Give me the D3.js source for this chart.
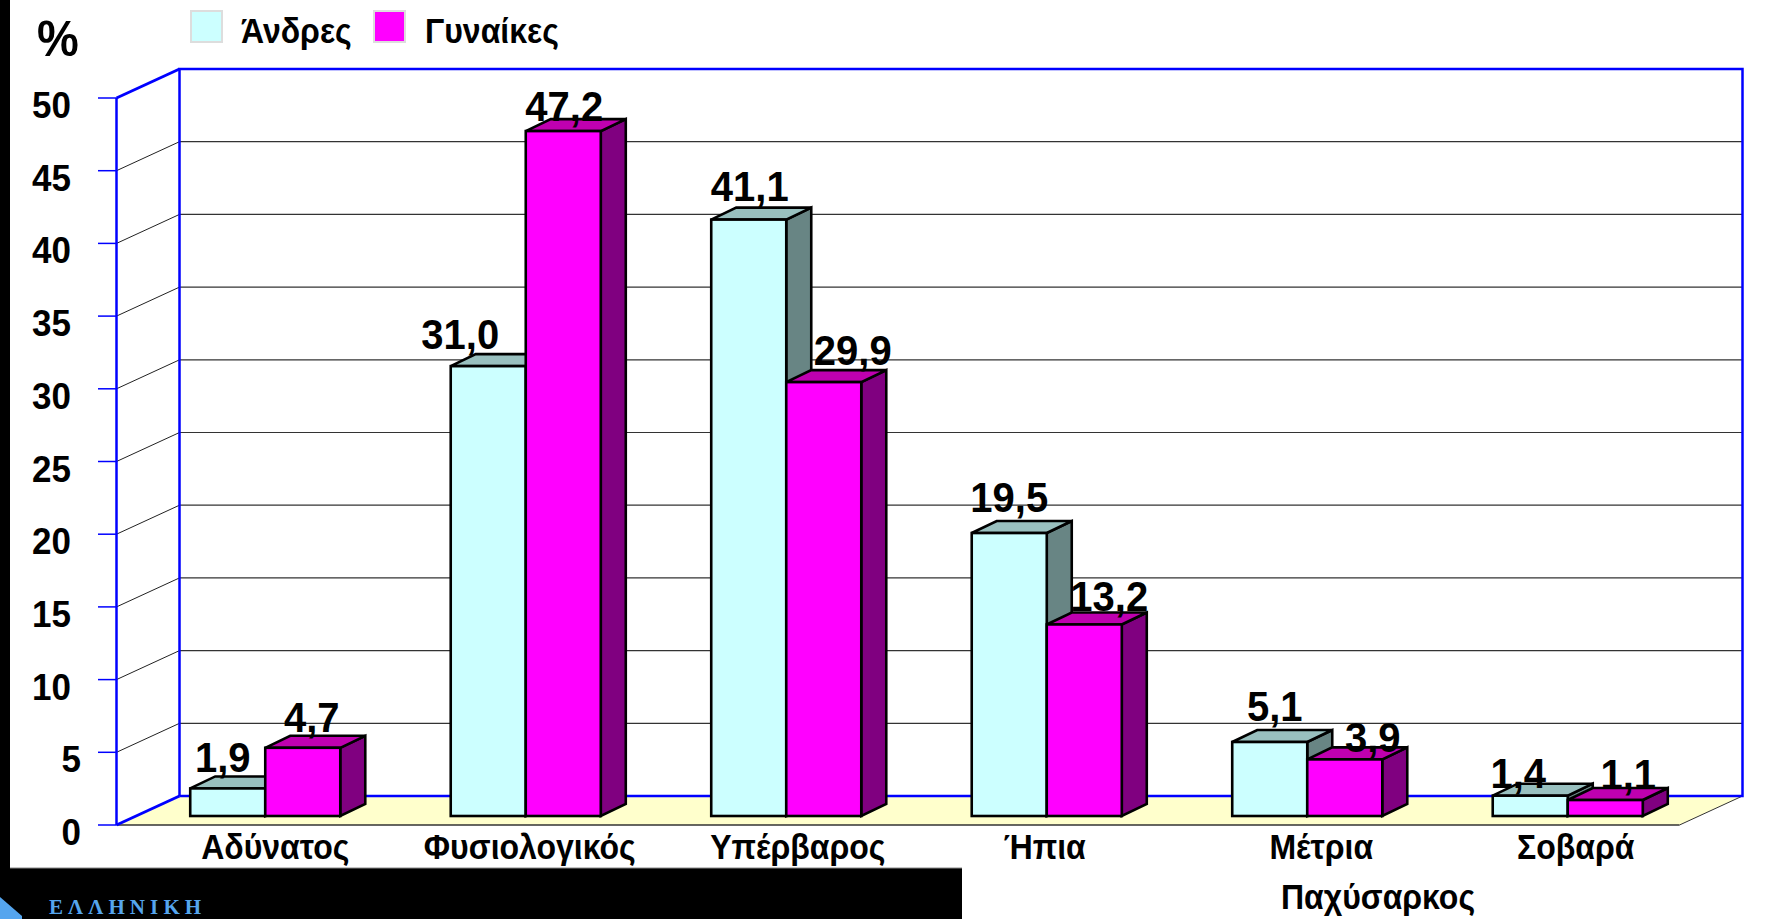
<!DOCTYPE html>
<html><head><meta charset="utf-8">
<script src="https://cdn.jsdelivr.net/npm/d3@7"></script>
<style>html,body{margin:0;padding:0;background:#fff;overflow:hidden}svg{display:block}
text{font-family:"Liberation Sans",Arial,sans-serif;font-weight:700;fill:#000}</style></head>
<body><svg id="c" width="1791" height="919"></svg>
<script>
const categories = ["Αδύνατος","Φυσιολογικός","Υπέρβαρος","Ήπια","Μέτρια","Σοβαρά"];
const seriesNames = ["Άνδρες","Γυναίκες"];
const men = [1.9,31.0,41.1,19.5,5.1,1.4];
const women = [4.7,47.2,29.9,13.2,3.9,1.1];
const yTicks = [0,5,10,15,20,25,30,35,40,45,50];
const labelNudgeMen = [-5,-28,1,0,5,-12];
const labelNudgeWomen = [9,1,29,25,28,23];
const labelLiftMen = [0,0,-1,-4,-5,8];
const labelLiftWomen = [0,7,0,3,9,5];
const catNudge = [3,-3,4.5,-9,7,1];

const svg = d3.select("#c");
const X0=116.5, X1=1679.5, Y0=825, Y50=98, DX=63, DY=-29;
const BX=18.5, BY=-9, BDX=25, BDY=-12, BSCALE=0.998;
const x = d3.scaleBand().domain(categories).range([X0,X1]).paddingInner(0.424).paddingOuter(0.212);
const xs = d3.scaleBand().domain(seriesNames).range([0,x.bandwidth()]);
const y = d3.scaleLinear().domain([0,50]).range([Y0,Y50]);
const fmt = v => v.toFixed(1).replace(".",",");
const pts = a => a.map(p=>p.join(",")).join(" ");

// page frame
svg.append("rect").attr("x",0).attr("y",0).attr("width",10).attr("height",919).attr("fill","#000");
svg.append("rect").attr("x",0).attr("y",868).attr("width",962).attr("height",51).attr("fill","#000");
svg.append("line").attr("x1",10).attr("x2",962).attr("y1",868).attr("y2",868).attr("stroke","#888").attr("stroke-width",1);
svg.append("polygon").attr("points",pts([[0,897],[22,916],[22,919],[0,919]])).attr("fill","#55a5ee");

// floor
svg.append("polygon").attr("points",pts([[X0,Y0],[X0+DX,Y0+DY],[X1+DX,Y0+DY],[X1,Y0]])).attr("fill","#ffffcc");
svg.append("line").attr("x1",X0).attr("x2",X1).attr("y1",Y0).attr("y2",Y0).attr("stroke","#333").attr("stroke-width",1.5);
svg.append("line").attr("x1",X1).attr("x2",X1+DX).attr("y1",Y0).attr("y2",Y0+DY).attr("stroke","#333").attr("stroke-width",1);

// grid
const grid = yTicks.filter(t=>t>0&&t<50);
svg.selectAll(".gb").data(grid).join("line").attr("x1",X0+DX).attr("x2",X1+DX)
  .attr("y1",d=>y(d)+DY).attr("y2",d=>y(d)+DY).attr("stroke","#333").attr("stroke-width",1.2);
svg.selectAll(".gd").data(grid).join("line").attr("x1",X0).attr("x2",X0+DX)
  .attr("y1",d=>y(d)).attr("y2",d=>y(d)+DY).attr("stroke","#222").attr("stroke-width",1);

// walls
const blue="#0000ff";
svg.append("path").attr("fill","none").attr("stroke",blue).attr("stroke-width",2.5)
  .attr("d",`M${X0+DX},${y(0)+DY}V${y(50)+DY}H${X1+DX}V${y(0)+DY}H${X0+DX}`);
svg.append("line").attr("x1",X0).attr("x2",X0).attr("y1",y(0)).attr("y2",y(50)).attr("stroke",blue).attr("stroke-width",2.5);
svg.append("line").attr("x1",X0).attr("x2",X0+DX).attr("y1",y(50)).attr("y2",y(50)+DY).attr("stroke",blue).attr("stroke-width",3);
svg.append("line").attr("x1",X0).attr("x2",X0+DX).attr("y1",y(0)).attr("y2",y(0)+DY).attr("stroke",blue).attr("stroke-width",3);

// y axis
svg.selectAll(".tk").data(yTicks).join("line").attr("x1",X0-18.5).attr("x2",X0)
  .attr("y1",d=>y(d)).attr("y2",d=>y(d)).attr("stroke",blue).attr("stroke-width",1.5);
svg.selectAll(".tl").data(yTicks).join("text").attr("text-anchor","end")
  .attr("x",d=>d<10?81:71).attr("y",d=>y(d)+20).style("font-size","35px").text(d=>d);
svg.append("text").attr("x",37).attr("y",56).style("font-size","47px").text("%");

// bars
const palette=[
 {front:"#ccffff",top:"#99c0bf",side:"#688584"},
 {front:"#ff00ff",top:"#bf00b0",side:"#800080"}];
const series=[men,women];
const barY = v => y(0)+(y(v)-y(0))*BSCALE+BY;
const bars=svg.append("g").attr("stroke","#000").attr("stroke-width",2.6).attr("stroke-linejoin","miter");
series.forEach((vals,si)=>{
  const name=seriesNames[si], col=palette[si];
  categories.forEach((c,i)=>{
    const l=x(c)+xs(name)+BX, r=l+xs.bandwidth(), t=barY(vals[i]), b=y(0)+BY;
    bars.append("polygon").attr("fill",col.side).attr("points",pts([[r,b],[r,t],[r+BDX,t+BDY],[r+BDX,b+BDY]]));
    bars.append("polygon").attr("fill",col.top).attr("points",pts([[l,t],[l+BDX,t+BDY],[r+BDX,t+BDY],[r,t]]));
    bars.append("rect").attr("fill",col.front).attr("x",l).attr("y",t).attr("width",r-l).attr("height",b-t);
  });
});

// value labels
series.forEach((vals,si)=>{
  const nudge=si?labelNudgeWomen:labelNudgeMen, lift=si?labelLiftWomen:labelLiftMen;
  svg.selectAll(".vl"+si).data(vals).join("text").attr("text-anchor","middle")
    .attr("x",(d,i)=>x(categories[i])+xs(seriesNames[si])+xs.bandwidth()/2+BX+nudge[i])
    .attr("y",(d,i)=>y(d)+BY-16+lift[i]).style("font-size","40px").text(fmt);
});

// categories
svg.selectAll(".cl").data(categories).join("text").attr("text-anchor","middle")
  .attr("x",(d,i)=>x(d)+x.bandwidth()/2+BX+7+catNudge[i]).attr("y",859).style("font-size","32px").text(d=>d);
svg.append("text").attr("x",1378).attr("y",909).attr("text-anchor","middle").style("font-size","32px").text("Παχύσαρκος");

// legend
const legX=[190,373], legT=[241,425];
seriesNames.forEach((n,i)=>{
  svg.append("rect").attr("x",legX[i]+1).attr("y",11).attr("width",31).attr("height",31)
    .attr("fill",palette[i].front).attr("stroke","#ddd").attr("stroke-width",2);
  svg.append("text").attr("x",legT[i]).attr("y",43).style("font-size","32px").text(n);
});

// the reference's type is slightly stretched vertically
svg.selectAll("text").each(function(){
  const t=d3.select(this), tx=+t.attr("x"), ty=+t.attr("y");
  t.attr("x",0).attr("y",0).attr("transform",`translate(${tx},${ty}) scale(1,1.08)`);
});

svg.append("text").attr("x",49).attr("y",914).text("ΕΛΛΗΝΙΚΗ")
  .style("font-family","'Liberation Serif',serif").style("font-size","21px").style("letter-spacing","5.1px").style("fill","#55a5ee");
</script></body></html>
